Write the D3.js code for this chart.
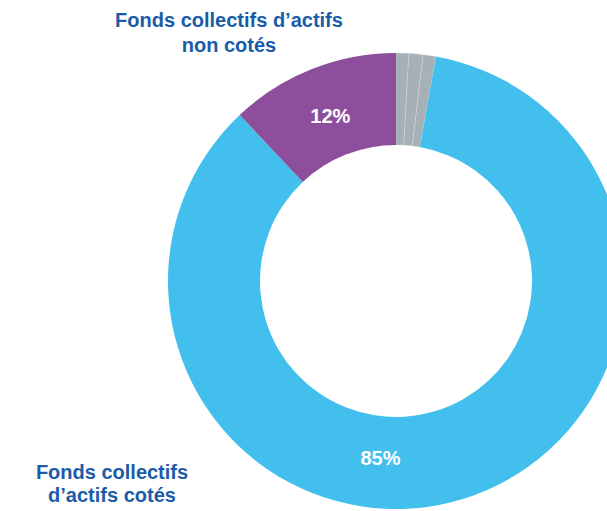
<!DOCTYPE html>
<html>
<head>
<meta charset="utf-8">
<script src="https://cdn.jsdelivr.net/npm/d3@7"></script>
<style>
  html, body { margin: 0; padding: 0; background: #fff; }
  svg { display: block; }
</style>
</head>
<body>
<svg id="chart" width="607" height="511"></svg>
<script>
// Répartition des fonds collectifs (en % de l'encours)
const categories = ["Autre 1", "Autre 2", "Autre 3", "Fonds collectifs d’actifs cotés", "Fonds collectifs d’actifs non cotés"];
const values = [0.9, 1.0, 0.9, 85, 12];
const valueLabels = ["", "", "", "85%", "12%"];
const groups = ["autre", "autre", "autre", "cotes", "noncotes"];

const colors = { autre: "#a5b0b7", cotes: "#42bfec", noncotes: "#8d4f9b" };
const textBlue = "#1b5ca8";
const fontFamily = "Liberation Sans, Arial, sans-serif";

const svg = d3.select("#chart");
const cx = 396, cy = 281;
const innerR = 136, outerR = 228;

const data = categories.map((c, i) => ({ name: c, value: values[i], label: valueLabels[i], group: groups[i] }));

const pie = d3.pie().value(d => d.value).sort(null).startAngle(0).endAngle(2 * Math.PI);
const arcs = pie(data);

const arc = d3.arc().innerRadius(innerR).outerRadius(outerR);

const ring = svg.append("g").attr("transform", `translate(${cx},${cy})`);

ring.selectAll("path")
  .data(arcs)
  .join("path")
  .attr("d", arc)
  .attr("fill", d => colors[d.data.group])
  .attr("stroke", d => d.data.group === "autre" ? "rgba(255,255,255,0.3)" : "none")
  .attr("stroke-width", 0.6);

// Value labels: the listed-fund label sits near the bottom of its ring
const labelR = 178;
const labelAngleFor = d => d.data.group === "cotes" ? Math.PI * 185 / 180 : (d.startAngle + d.endAngle) / 2;

const labelLayer = svg.append("g").attr("transform", `translate(${cx},${cy})`);
arcs.forEach(d => {
  if (d.data.label === "") return;
  const a = labelAngleFor(d);
  labelLayer.append("text")
    .attr("x", labelR * Math.sin(a))
    .attr("y", -labelR * Math.cos(a) + 7)
    .attr("text-anchor", "middle")
    .style("fill", "#ffffff")
    .style("font-family", fontFamily)
    .style("font-weight", "bold")
    .style("font-size", "20px")
    .text(d.data.label);
});

// Category captions
function caption(lines, x, y, lh) {
  const t = svg.append("text")
    .attr("text-anchor", "middle")
    .style("fill", textBlue)
    .style("font-family", fontFamily)
    .style("font-weight", "bold")
    .style("font-size", "20px");
  lines.forEach((l, i) => {
    t.append("tspan").attr("x", x).attr("y", y + i * lh).text(l);
  });
}

caption(["Fonds collectifs d’actifs", "non cotés"], 229, 27, 25);
caption(["Fonds collectifs", "d’actifs cotés"], 112, 479, 23);
</script>
</body>
</html>
